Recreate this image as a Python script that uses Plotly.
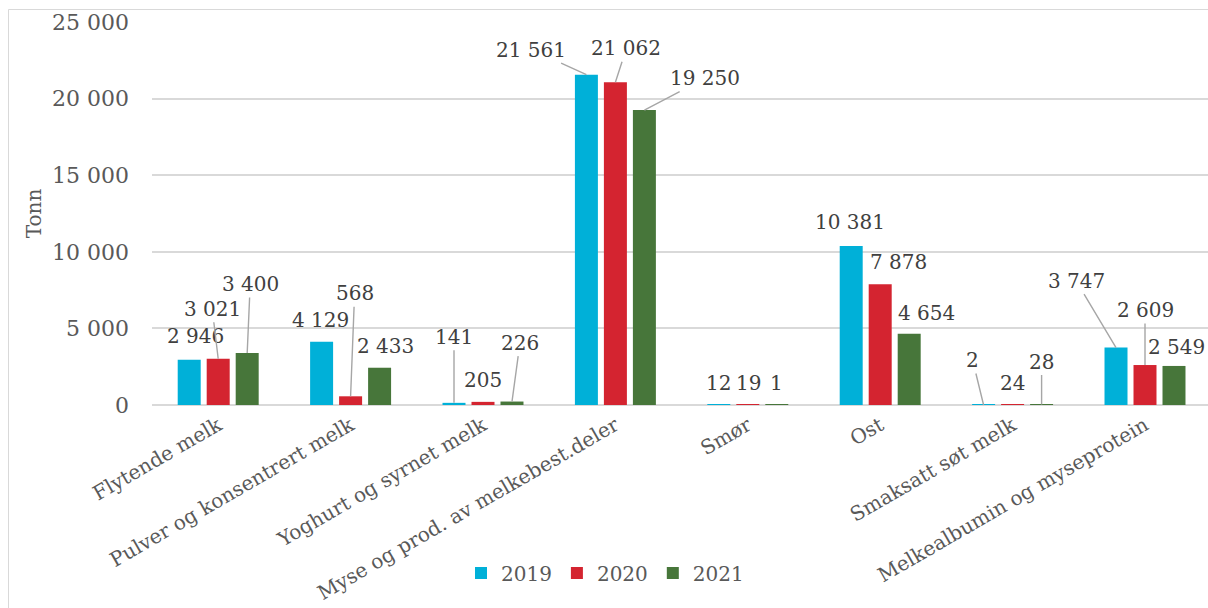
import plotly.graph_objects as go

categories = ["Flytende melk", "Pulver og konsentrert melk", "Yoghurt og syrnet melk",
              "Myse og prod. av melkebest.deler", "Smør", "Ost", "Smaksatt søt melk",
              "Melkealbumin og myseprotein"]
years = ["2019", "2020", "2021"]
v2019 = [2946, 4129, 141, 21561, 12, 10381, 2, 3747]
v2020 = [3021, 568, 205, 21062, 19, 7878, 24, 2609]
v2021 = [3400, 2433, 226, 19250, 1, 4654, 28, 2549]
y_ticks = [0, 5000, 10000, 15000, 20000, 25000]

series = [v2019, v2020, v2021]
colors = ["#00B0D8", "#D42430", "#47763A"]

# label placement (pixel offsets of label centre from bar top, leader line shown?)
label_offsets = [
    [(6, -24, False), (-1, -22, False), (0, -66, True), (-55, -25, True),
     (0, -22, False), (-1, -24, False), (-11, -45, True), (-40, -67, True)],
    [(-6, -50, True), (4, -103, True), (0, -22, False), (11, -34, True),
     (1, -22, False), (18, -22, False), (0, -22, False), (0, -55, True)],
    [(3, -69, True), (6, -22, False), (8, -59, True), (61, -32, True),
     (0, -22, False), (17, -21, False), (0, -43, True), (2, -19, False)],
]

FONT = "DejaVu Serif"
BARGAP = 0.343
slot = (1 - BARGAP) / len(years)

fig = go.Figure()
for name, vals, col in zip(years, series, colors):
    fig.add_trace(go.Bar(x=categories, y=vals, name=name,
                         marker=dict(color=col, line=dict(width=0))))

def fmt(v):
    return f"{v:,}".replace(",", " ")

annotations = []
for j, vals in enumerate(series):
    for i, v in enumerate(vals):
        ax, ay, leader = label_offsets[j][i]
        annotations.append(dict(
            x=i + (j - 1) * slot, y=v, xref="x", yref="y",
            text=fmt(v), showarrow=True, ax=ax, ay=ay,
            arrowhead=0, arrowwidth=1.4, standoff=0,
            arrowcolor="#A6A6A6" if leader else "rgba(0,0,0,0)",
            font=dict(family=FONT, size=20, color="#404040"),
        ))

W, H = 1208, 608
L, R, T, B = 152, 0, 22, 203
pw, ph = W - L - R, H - T - B

fig.add_shape(type="rect", xref="paper", yref="paper",
              x0=(8.5 - L) / pw, x1=(W + 5 - L) / pw,
              y0=-(H - T - ph + 10) / ph, y1=(H - B - 9.5) / ph,
              line=dict(color="#D9D9D9", width=1), layer="below")

fig.update_layout(
    width=W, height=H,
    margin=dict(l=L, r=R, t=T, b=B, autoexpand=False),
    paper_bgcolor="white", plot_bgcolor="white",
    barmode="group", bargap=BARGAP, bargroupgap=0.207,
    separators=", ",
    font=dict(family=FONT, size=20, color="#595959"),
    showlegend=True,
    legend=dict(orientation="h", x=(605 - L) / pw, xanchor="center",
                y=-(573 - (H - B)) / ph, yanchor="middle",
                font=dict(family=FONT, size=20, color="#595959"),
                itemwidth=30, tracegroupgap=0),
    annotations=annotations,
)
fig.update_xaxes(range=[-0.5, -0.5 + pw / 132.4], tickangle=-30,
                 showline=False, ticks="", showgrid=False,
                 tickfont=dict(family=FONT, size=20, color="#595959"),
                 ticklabelstandoff=4, automargin=False)
fig.update_yaxes(range=[0, 25000], tickvals=y_ticks, tickformat=",d",
                 showgrid=True, gridcolor="#D9D9D9", gridwidth=1.5,
                 zeroline=True, zerolinecolor="#D9D9D9", zerolinewidth=1.5,
                 showline=False, ticks="",
                 tickfont=dict(family=FONT, size=22, color="#595959"),
                 ticklabelstandoff=22, automargin=False,
                 title=dict(text="Tonn", standoff=5,
                            font=dict(family=FONT, size=20, color="#595959")))

fig.write_html("out.html")
